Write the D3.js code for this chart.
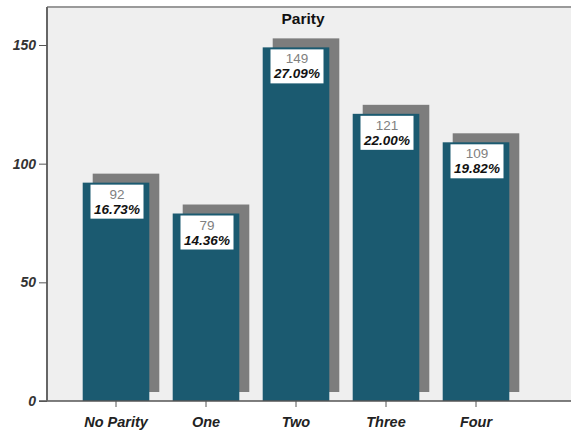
<!DOCTYPE html>
<html>
<head>
<meta charset="utf-8">
<script src="https://cdn.jsdelivr.net/npm/d3@7"></script>
<style>
  body { margin: 0; background: #fff; }
  text { font-family: "Liberation Sans", Arial, sans-serif; }
</style>
</head>
<body>
<div id="chart"></div>
<script>
// Chart data
var categories = ["No Parity", "One", "Two", "Three", "Four"];
var counts = [92, 79, 149, 121, 109];
var percents = ["16.73%", "14.36%", "27.09%", "22.00%", "19.82%"];
var yTicks = [0, 50, 100, 150];

var width = 571, height = 432;
var margin = { top: 7, right: 0, bottom: 31, left: 47 };

var svg = d3.select("#chart").append("svg")
    .attr("width", width)
    .attr("height", height);

// Define scales
var xScale = d3.scaleBand()
    .domain(categories)
    .range([71, 521])
    .paddingInner(0.26)
    .paddingOuter(0.13);
var yScale = d3.scaleLinear()
    .domain([0, 150])
    .range([height - margin.bottom, 45]);

// Plot background
svg.append("rect")
    .attr("x", margin.left)
    .attr("y", margin.top)
    .attr("width", width - margin.left)
    .attr("height", yScale(0) - margin.top)
    .attr("fill", "#efefef");
svg.append("line")
    .attr("x1", margin.left).attr("x2", width)
    .attr("y1", margin.top).attr("y2", margin.top)
    .attr("stroke", "#9a9a9a").attr("stroke-width", 2);

// Title
svg.append("text")
    .attr("x", 303)
    .attr("y", 24)
    .attr("text-anchor", "middle")
    .attr("font-size", 15.5)
    .attr("font-weight", "bold")
    .attr("fill", "#111")
    .text("Parity");

var bars = svg.selectAll(".bar")
    .data(categories)
    .enter().append("g")
    .attr("class", "bar");

// Drop shadow
bars.append("rect")
    .attr("x", function (d) { return xScale(d) + 10; })
    .attr("y", function (d, i) { return yScale(counts[i]) - 9; })
    .attr("width", xScale.bandwidth())
    .attr("height", function (d, i) { return yScale(0) - yScale(counts[i]); })
    .attr("fill", "#7d7d7d");

bars.append("rect")
    .attr("x", function (d) { return xScale(d); })
    .attr("y", function (d, i) { return yScale(counts[i]); })
    .attr("width", xScale.bandwidth())
    .attr("height", function (d, i) { return yScale(0) - yScale(counts[i]); })
    .attr("fill", "#1b5a70");

// Value labels
var boxW = 53, boxH = 34;
bars.append("rect")
    .attr("x", function (d) { return xScale(d) + xScale.bandwidth() / 2 - boxW / 2 + 1; })
    .attr("y", function (d, i) { return yScale(counts[i]) + 2; })
    .attr("width", boxW)
    .attr("height", boxH)
    .attr("fill", "#fff");
bars.append("text")
    .attr("x", function (d) { return xScale(d) + xScale.bandwidth() / 2 + 1; })
    .attr("y", function (d, i) { return yScale(counts[i]) + 16; })
    .attr("text-anchor", "middle")
    .attr("font-size", 13.5)
    .attr("fill", "#808080")
    .text(function (d, i) { return counts[i]; });
bars.append("text")
    .attr("x", function (d) { return xScale(d) + xScale.bandwidth() / 2 + 1; })
    .attr("y", function (d, i) { return yScale(counts[i]) + 31; })
    .attr("text-anchor", "middle")
    .attr("font-size", 13.5)
    .attr("font-weight", "bold")
    .attr("font-style", "italic")
    .attr("fill", "#111")
    .text(function (d, i) { return percents[i]; });

// Axes
var xAxis = d3.axisBottom(xScale).tickSize(6).tickSizeOuter(0);
var yAxis = d3.axisLeft(yScale).tickValues(yTicks).tickSize(8).tickSizeOuter(0);

var gx = svg.append("g")
    .attr("transform", "translate(0," + yScale(0) + ")")
    .call(xAxis);
gx.select(".domain").attr("d", "M" + (margin.left - 8) + ",0H" + width)
    .attr("stroke", "#555").attr("stroke-width", 1.5);
gx.selectAll(".tick line").attr("stroke", "#555");
gx.selectAll(".tick text")
    .attr("dy", "1.15em")
    .attr("font-size", 14.5)
    .attr("font-weight", "bold")
    .attr("font-style", "italic")
    .attr("fill", "#222")
    .attr("font-family", "Liberation Sans, Arial, sans-serif");

var gy = svg.append("g")
    .attr("transform", "translate(" + margin.left + ",0)")
    .call(yAxis);
gy.select(".domain").attr("d", "M0," + margin.top + "V" + yScale(0))
    .attr("stroke", "#666").attr("stroke-width", 2);
gy.selectAll(".tick line").attr("stroke", "#555");
gy.selectAll(".tick text")
    .attr("x", -11)
    .attr("font-size", 14)
    .attr("font-weight", "bold")
    .attr("font-style", "italic")
    .attr("fill", "#333")
    .attr("font-family", "Liberation Sans, Arial, sans-serif");
</script>
</body>
</html>
